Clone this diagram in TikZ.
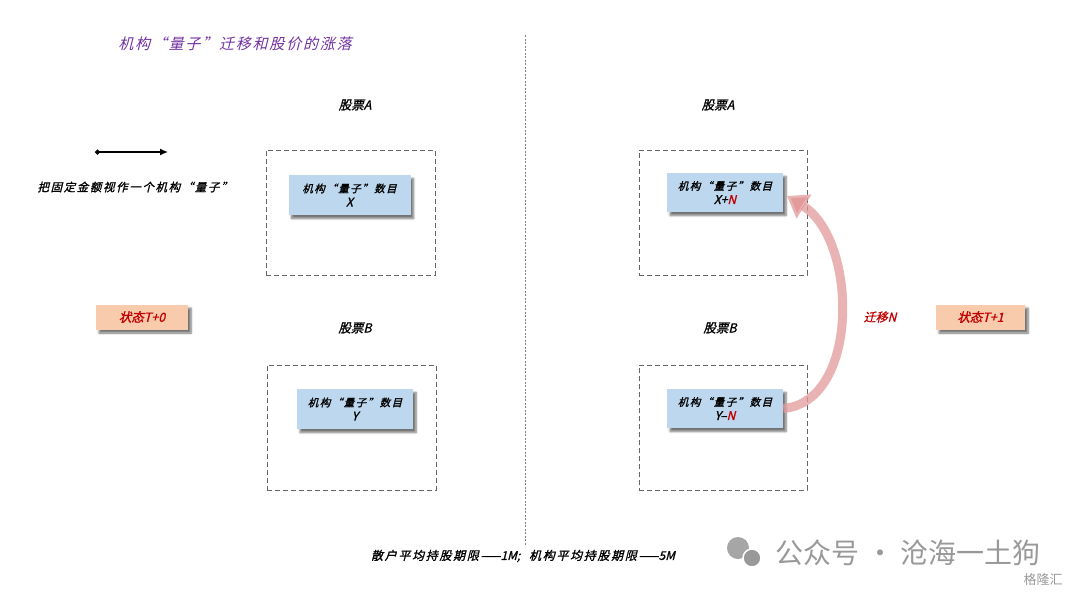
\documentclass[tikz,border=0pt]{standalone}
\usepackage{fontspec}
\setmainfont{Liberation Sans}
\newfontfamily\cjk[FakeSlant=0.25,FakeBold=1.2]{Noto Sans CJK SC}
\newfontfamily\cjkwide[FakeSlant=0.25,FakeBold=1.2,LetterSpace=14]{Noto Sans CJK SC}
\newfontfamily\cjktitle[FakeSlant=0.25,LetterSpace=12]{Noto Sans CJK SC}
\newfontfamily\cjkup{Noto Sans CJK SC}
\usetikzlibrary{positioning,shadows.blur,arrows.meta}
\definecolor{qblue}{HTML}{BDD7EE}
\definecolor{qpeach}{HTML}{F8CBAD}
\definecolor{qred}{HTML}{C00000}
\definecolor{qpurple}{HTML}{7030A0}
\definecolor{qpink}{HTML}{E29A9A}
\begin{document}
\begin{tikzpicture}[x=1pt,y=-1pt]
% Set styles
\tikzset{
  stock box/.style={draw=black!60, dash pattern=on 5pt off 3pt, line width=1pt, minimum width=169pt, minimum height=125pt},
  count box/.style={fill=qblue, minimum width=122pt, minimum height=40pt, inner sep=1pt, align=center,
    font=\cjkwide\fontsize{10.5}{14}\selectfont,
    blur shadow={shadow xshift=3pt, shadow yshift=-3.5pt, shadow blur steps=6, shadow opacity=55}},
  state box/.style={fill=qpeach, minimum width=92pt, minimum height=25pt, text=qred,
    font=\cjk\fontsize{12.5}{14}\selectfont,
    blur shadow={shadow xshift=3pt, shadow yshift=-3.5pt, shadow blur steps=6, shadow opacity=55}},
  stock label/.style={font=\cjk\fontsize{12.5}{14}\selectfont},
  count value/.style={font=\cjk\fontsize{12}{14}\selectfont},
  migrate arrow/.style={draw=qpink, line width=9pt, draw opacity=0.75,
    -{Triangle[length=20pt, width=27pt]}}
}
\useasboundingbox (0,0) rectangle (1080,598);

% Title and divider
\node [font=\cjktitle\fontsize{15}{18}\selectfont, text=qpurple] (title) at (235,44) {机构“量子”迁移和股价的涨落};
\draw [black!50, dash pattern=on 2pt off 1.5pt, line width=0.5pt] (525,35) -- (525,545);

% Legend
\coordinate (q0) at (95,152);
\coordinate (q1) at (168,152);
\draw [line width=1.2pt, {Circle[length=5pt]}-{Latex[length=8pt, width=7pt]}] (q0) -- (q1);
\node [font=\cjkwide\fontsize{11.5}{13}\selectfont] (legend) at (135,187) {把固定金额视作一个机构“量子”};

% State T+0
\node [state box] (S0) at (142,317) {状态T+0};
\node [stock label] (LA0) at (355,105) {股票A};
\node [stock box] (A0) at (350.5,212.5) {};
\node [count box] (A0c) at (349.5,195) {机构“量子”数目\\{\cjk\fontsize{12}{14}\selectfont X}};
\node [stock label] (LB0) at (355,328) {股票B};
\node [stock box] (B0) at (351.5,427.5) {};
\node [count box, minimum width=116pt] (B0c) at (355,409) {机构“量子”数目\\{\cjk\fontsize{12}{14}\selectfont Y}};

% State T+1
\node [stock label] (LA1) at (718,105) {股票A};
\node [stock box, minimum width=168pt] (A1) at (723,212.5) {};
\node [count box, minimum width=116pt, minimum height=39pt] (A1c) at (725,192.5) {机构“量子”数目\\{\cjk\fontsize{12}{14}\selectfont X+\textcolor{qred}{N}}};
\node [stock label] (LB1) at (720,328) {股票B};
\node [stock box, minimum width=168pt] (B1) at (723,427.5) {};
\node [count box, minimum width=116pt, minimum height=39pt] (B1c) at (725,408.5) {机构“量子”数目\\{\cjk\fontsize{12}{14}\selectfont Y\textendash\textcolor{qred}{N}}};
\node [state box, minimum width=89pt] (S1) at (980.5,317) {状态T+1};

% Migration of N quanta
\coordinate (tip) at (787,196);
\draw [migrate arrow] (B1c.east) .. controls (860,402) and (858,240) .. (tip);
\node [font=\cjk\fontsize{12}{14}\selectfont, text=qred] (mig) at (880,317) {迁移N};

% Holding periods
\node [font=\cjkwide\fontsize{12}{13}\selectfont] (hold) at (523,556) {散户平均持股期限——{\cjk 1M;}\ \ 机构平均持股期限——{\cjk 5M}};

% Watermark
\fill [black!35] (738,548) circle (11pt);
\fill [black!40, draw=white, line width=1.5pt] (752,558) circle (9pt);
\node [font=\cjkup\fontsize{28}{30}\selectfont, text=black!40] (wm) at (908,553) {公众号 · 沧海一土狗};
\node [font=\cjkup\fontsize{13}{15}\selectfont, text=black!40] (glh) at (1043,580) {格隆汇};
\end{tikzpicture}
\end{document}
